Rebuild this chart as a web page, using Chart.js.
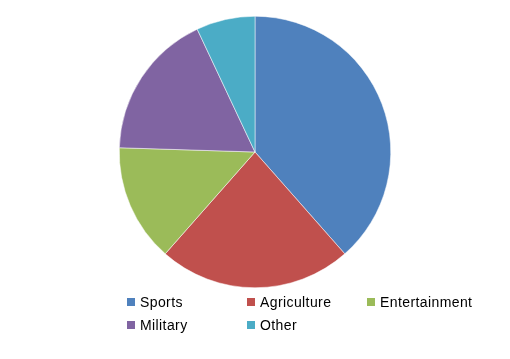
<!DOCTYPE html>
<html>
<head>
<meta charset="utf-8">
<script src="https://cdn.jsdelivr.net/npm/chart.js@4"></script>
<style>
  body { margin: 0; background: #fff; }
  #wrap { position: relative; width: 510px; height: 359px; }
  #legend { position: absolute; left: 127px; top: 294px; width: 380px;
    font-family: "Liberation Sans", Arial, sans-serif; font-size: 14px; letter-spacing: 0.4px; color: #000; }
  .item { position: absolute; display: flex; align-items: center; white-space: nowrap; }
  .box { width: 8px; height: 8px; margin-right: 5px; }
</style>
</head>
<body>
<div id="wrap">
  <canvas id="pieChart" width="510" height="359"></canvas>
  <div id="legend"></div>
</div>
<script>
const labels = ["Sports", "Agriculture", "Entertainment", "Military", "Other"];
const values = [38.5, 23, 14, 17.5, 7];
const colors = ["#4F81BD", "#C0504D", "#9BBB59", "#8064A2", "#4BACC6"];

// legend laid out as a 3-column grid like the original
const legend = document.getElementById("legend");
labels.forEach((lab, i) => {
  const el = document.createElement("div");
  el.className = "item";
  el.style.left = (i % 3) * 120 + "px";
  el.style.top = Math.floor(i / 3) * 23 + "px";
  el.innerHTML = `<span class="box" style="background:${colors[i]}"></span>${lab}`;
  legend.appendChild(el);
});

new Chart(document.getElementById("pieChart"), {
  type: "pie",
  data: {
    labels: labels,
    datasets: [{
      data: values,
      backgroundColor: colors,
      borderColor: "#ffffff",
      borderWidth: 0.5
    }]
  },
  options: {
    responsive: false,
    animation: false,
    layout: { padding: { top: 16, bottom: 71 } },
    plugins: {
      legend: { display: false },
      tooltip: { enabled: false }
    }
  }
});
</script>
</body>
</html>
